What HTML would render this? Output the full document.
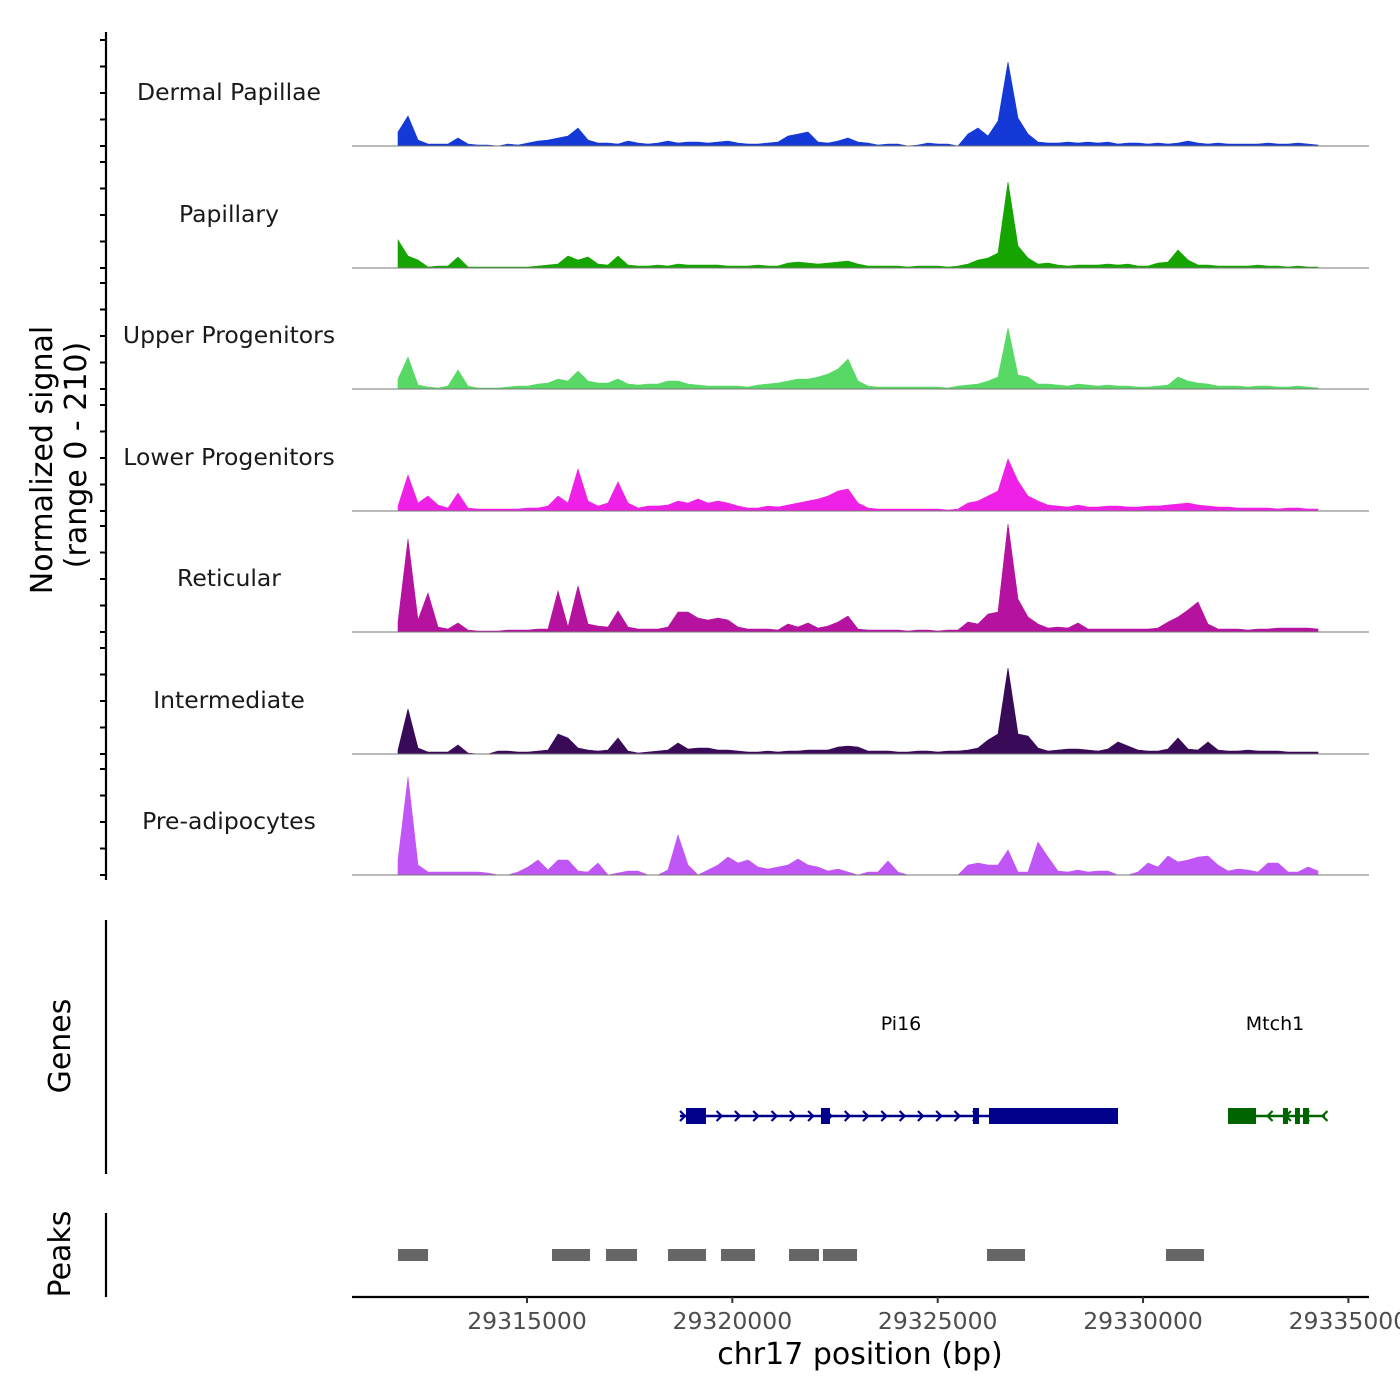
<!DOCTYPE html>
<html><head><meta charset="utf-8"><style>
html,body{margin:0;padding:0;background:#fff;}
svg{display:block;font-family:"DejaVu Sans","Liberation Sans",sans-serif;}
</style></head><body>
<svg id="chart" width="1400" height="1400" viewBox="0 0 1400 1400"></svg>
<script>
// ---- data ----
const trackNames = ["Dermal Papillae","Papillary","Upper Progenitors","Lower Progenitors","Reticular","Intermediate","Pre-adipocytes"];
const trackColors = ["#1539d6","#16a400","#58d966","#f021e6","#b5139f","#390a57","#c056f5"];
const binStart = 29311859;
const binSize = 243.5;
const sigDermal = [14,30,6,2,2,2,8,2,1,1, 0,2,1,3,5,6,8,10,18,6, 3,3,2,5,3,2,3,5,3,4, 4,3,4,5,3,2,2,3,4,10, 12,14,4,3,5,8,4,3,1,2, 2,0,1,3,2,2,0,12,18,10, 25,84,28,12,4,3,3,4,3,4, 3,4,2,3,3,2,3,2,3,5, 3,2,3,2,2,2,2,3,2,2, 3,2,1];
const sigPapillary = [28,12,8,1,2,2,11,1,1,1, 1,1,1,1,2,3,4,12,8,11, 4,3,12,3,2,2,3,2,4,3, 3,3,3,2,2,2,3,2,2,5, 6,5,4,5,6,7,4,2,2,2, 2,1,2,2,2,1,2,4,8,10, 15,86,22,10,4,5,3,2,3,3, 3,4,3,4,2,2,5,6,18,8, 3,3,2,2,2,2,3,2,2,1, 2,1,1];
const sigUpper = [10,32,4,2,1,3,19,3,1,1, 1,2,3,3,5,6,10,8,18,8, 6,6,10,5,4,5,5,8,8,5, 4,3,3,3,3,2,4,5,6,8, 10,10,12,15,20,30,8,3,2,2, 2,2,2,2,2,1,3,4,5,8, 12,61,14,12,5,5,4,3,5,4, 3,4,3,3,2,2,3,4,12,8, 6,5,3,3,3,2,3,3,2,2, 3,2,1];
const sigLower = [5,36,8,15,6,3,18,3,2,2, 2,2,2,3,3,5,15,8,42,10, 5,8,29,8,3,5,5,6,10,8, 12,8,10,8,5,3,3,5,4,6, 8,10,12,15,20,22,8,3,2,2, 2,2,2,2,2,1,2,8,10,15, 20,52,30,15,10,6,5,4,6,4, 4,5,5,4,4,5,5,6,7,8, 6,5,4,4,3,3,3,3,2,3, 3,2,2];
const sigReticular = [10,93,12,39,5,3,9,2,1,1, 1,2,2,2,3,3,41,5,46,8, 6,5,21,5,3,3,3,5,20,20, 14,12,14,12,5,3,3,3,2,8, 5,9,4,6,10,16,3,2,2,2, 2,1,2,2,1,2,2,10,8,18, 20,108,33,15,8,4,5,4,9,3, 3,3,3,3,3,3,4,10,15,22, 30,8,3,3,3,2,3,3,4,4, 4,4,3];
const sigIntermediate = [4,45,6,2,2,2,9,1,0,0, 3,3,2,2,3,4,20,16,6,4, 3,4,16,3,1,2,3,4,11,5, 6,6,4,4,3,2,2,3,2,3, 3,4,4,4,7,8,7,3,3,3, 2,2,3,3,2,3,3,4,6,14, 20,86,20,18,6,3,4,5,5,4, 3,5,12,8,4,3,3,5,16,5, 4,12,4,3,3,4,3,3,3,2, 2,2,2];
const sigPreadipo = [15,98,10,3,3,3,3,3,3,2, 0,0,3,8,15,5,15,15,4,3, 12,0,2,4,4,0,0,5,40,10, 0,5,10,18,12,15,8,6,8,10, 16,10,8,4,6,3,0,3,3,14, 3,0,0,0,0,0,0,10,12,10, 10,25,3,3,33,18,4,3,5,3, 4,4,0,0,3,12,8,19,13,15, 18,19,10,4,6,5,3,12,12,3, 3,8,4];
const signals = [sigDermal,sigPapillary,sigUpper,sigLower,sigReticular,sigIntermediate,sigPreadipo];
const xTicks = [29315000,29320000,29325000,29330000,29335000];
const peakStarts = [29311859,29315609,29316924,29318433,29319724,29321379,29322207,29326200,29330559];
const peakEnds   = [29312590,29316534,29317678,29319358,29320551,29322110,29323035,29327126,29331484];
const pi16Exons = [[29318871,29319358],[29322158,29322378],[29325860,29326006],[29326249,29329390]];
const pi16Range = [29318725,29329390];
const mtch1Exons = [[29332068,29332750],[29333407,29333529],[29333700,29333821],[29333894,29334040]];
const mtch1Range = [29332068,29334430];

// ---- scales ----
const xScale = bp => 527 + (bp - 29315000) * 0.04107;
const yUnit = 1; // px per signal unit
const baselines = [146,268,389,511,632,754,875];
const NS = "http://www.w3.org/2000/svg";
const svg = document.getElementById("chart");
function mk(tag, attrs, parent){const e=document.createElementNS(NS,tag);for(const k in attrs)e.setAttribute(k,attrs[k]);(parent||svg).appendChild(e);return e;}

// left axis
let ax = mk("line",{x1:106,y1:32,x2:106,y2:880,stroke:"#000","stroke-width":2.2});


baselines.forEach((b,ti)=>{
  for(let k=0;k<5;k++){
    const t=mk("line",{x1:100,y1:b-26.5*k,x2:106,y2:b-26.5*k,stroke:"#000","stroke-width":2});
    
    
  }
});
let yt = mk("text",{x:0,y:0,"font-size":30,"text-anchor":"middle",transform:"translate(52,460) rotate(-90)",fill:"#000"});
yt.textContent="Normalized signal";


let yt2 = mk("text",{x:0,y:0,"font-size":30,"text-anchor":"middle",transform:"translate(86,455) rotate(-90)",fill:"#000"});
yt2.textContent="(range 0 - 210)";



// tracks
signals.forEach((sig,ti)=>{
  const b = baselines[ti];
  let d = "M"+xScale(binStart).toFixed(1)+","+b;
  sig.forEach((v,i)=>{ d += " L"+xScale(binStart+i*binSize).toFixed(1)+","+(b - v*yUnit).toFixed(1); });
  d += " L"+xScale(binStart+(sig.length-1)*binSize).toFixed(1)+","+b+" Z";
  const p = mk("path",{d:d,fill:trackColors[ti],stroke:trackColors[ti],"stroke-width":0.6});
  
  
  const l = mk("line",{x1:352,y1:b,x2:1369,y2:b,stroke:"#777","stroke-width":1});
  
  
  const t = mk("text",{x:229,y:b-46,"font-size":23.5,"text-anchor":"middle",fill:"#1a1a1a"});
  t.textContent = trackNames[ti];
  
  
});

// genes panel
let ga = mk("line",{x1:106,y1:920,x2:106,y2:1174,stroke:"#000","stroke-width":2.2});


let gt = mk("text",{x:0,y:0,"font-size":30,"text-anchor":"middle",transform:"translate(70,1046) rotate(-90)",fill:"#000"});
gt.textContent="Genes";


function drawGene(range, exons, color, dir, label, labelX, name){
  const y=1116;
  const g = mk("g",{});
  
  
  mk("line",{x1:xScale(range[0]),y1:y,x2:xScale(range[1]),y2:y,stroke:color,"stroke-width":2.5},g);
  const x0=xScale(range[0]), x1=xScale(range[1]);
  for(let x=x0+4;x<=x1;x+=18.3){
    const pth = dir>0 ? `M${x-4},${y-5} L${x+1},${y} L${x-4},${y+5}` : `M${x+4},${y-5} L${x-1},${y} L${x+4},${y+5}`;
    mk("path",{d:pth,fill:"none",stroke:color,"stroke-width":2.2},g);
  }
  exons.forEach(e=>{ mk("rect",{x:xScale(e[0]),y:y-8,width:xScale(e[1])-xScale(e[0]),height:16,fill:color},g); });
  const t = mk("text",{x:labelX,y:1030,"font-size":19,"text-anchor":"middle",fill:"#000"},g);
  t.textContent=label;
}
drawGene(pi16Range,pi16Exons,"#00008b",1,"Pi16",901,"gene-pi16");
drawGene(mtch1Range,mtch1Exons,"#006400",-1,"Mtch1",1275,"gene-mtch1");

// peaks panel
let pa = mk("line",{x1:106,y1:1213,x2:106,y2:1297,stroke:"#000","stroke-width":2.2});


let pt = mk("text",{x:0,y:0,"font-size":30,"text-anchor":"middle",transform:"translate(70,1254) rotate(-90)",fill:"#000"});
pt.textContent="Peaks";


peakStarts.forEach((s,i)=>{
  const r = mk("rect",{x:xScale(s),y:1249,width:xScale(peakEnds[i])-xScale(s),height:12,fill:"#666"});
  
  
});

// x axis
let xa = mk("line",{x1:352,y1:1297,x2:1369,y2:1297,stroke:"#000","stroke-width":2.2});


xTicks.forEach(v=>{
  const x=xScale(v);
  const tk=mk("line",{x1:x,y1:1297,x2:x,y2:1303,stroke:"#333","stroke-width":2});
  
  
  const tl=mk("text",{x:x,y:1329,"font-size":23.5,"text-anchor":"middle",fill:"#4d4d4d"});
  tl.textContent=String(v);
  
  
});
let xt = mk("text",{x:860,y:1364,"font-size":30,"text-anchor":"middle",fill:"#000"});
xt.textContent="chr17 position (bp)";


</script>
</body></html>
